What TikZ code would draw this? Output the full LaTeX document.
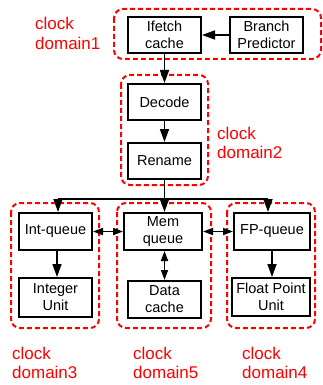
\documentclass[tikz,border=0pt]{standalone}
\usepackage{fontspec}
\setmainfont{Liberation Sans}
\usetikzlibrary{arrows.meta}
\begin{document}
\begin{tikzpicture}[x=1pt,y=-1pt,
  unit/.style={draw=black,line width=2pt,fill=white,inner sep=0pt,align=center,
    font=\fontsize{14.5}{17}\selectfont},
  clkdom/.style={draw=red,line width=2pt,dash pattern=on 5pt off 3pt,rounded corners=9pt},
  dlabel/.style={text=red,align=left,anchor=west,inner sep=0pt,font=\fontsize{17}{19.5}\selectfont},
  conn/.style={line width=1.7pt,-{Triangle[length=13pt,width=9pt]}},
  dconn/.style={line width=1.7pt,{Triangle[length=10pt,width=7pt]}-{Triangle[length=10pt,width=7pt]}}]
\useasboundingbox (0,0) rectangle (322,385);
% domains
\draw[clkdom] (114,9) rectangle (321,59);
\draw[clkdom] (121,75) rectangle (208,185);
\draw[clkdom] (11,203) rectangle (99,328);
\draw[clkdom] (117,203) rectangle (211,328);
\draw[clkdom] (227,203) rectangle (315,328);
% units
\node[unit,minimum width=73pt,minimum height=36pt] (ifetch) at (164.5,35) {Ifetch\\cache};
\node[unit,minimum width=73pt,minimum height=36pt] (branch) at (266.5,35) {Branch\\Predictor};
\node[unit,minimum width=73pt,minimum height=36pt] (decode) at (164.5,102) {Decode};
\node[unit,minimum width=73pt,minimum height=36pt] (rename) at (164.5,161) {Rename};
\node[unit,minimum width=73pt,minimum height=37pt] (intq) at (55.5,231.5) {Int-queue};
\node[unit,minimum width=78pt,minimum height=37pt] (memq) at (163,231.5) {Mem\\queue};
\node[unit,minimum width=76pt,minimum height=37pt] (fpq) at (272,231.5) {FP-queue};
\node[unit,minimum width=73pt,minimum height=39pt] (intu) at (55.5,297.5) {Integer\\Unit};
\node[unit,minimum width=73pt,minimum height=37pt] (dcache) at (164.5,299.5) {Data\\cache};
\node[unit,minimum width=78pt,minimum height=38pt] (fpu) at (271,297) {Float Point\\Unit};
% labels
\node[dlabel] (l1) at (35,33.5) {clock\\domain1};
\node[dlabel] (l2) at (217,143) {clock\\domain2};
\node[dlabel] (l3) at (12,363) {clock\\domain3};
\node[dlabel] (l5) at (133,363) {clock\\domain5};
\node[dlabel] (l4) at (242,363) {clock\\domain4};
% connectors
\draw[conn] (branch.west) -- (ifetch.east);
\draw[conn] (ifetch.south) -- (decode.north);
\draw[conn] (decode.south) -- (rename.north);
\coordinate (bus) at (164.5,199);
\coordinate (busl) at (58,199);
\coordinate (busr) at (268,199);
\draw[line width=1.7pt] (rename.south) -- (bus);
\draw[line width=1.7pt] (busl) -- (busr);
\draw[conn] (busl) -- (busl |- intq.north);
\draw[conn] (bus) -- (bus |- memq.north);
\draw[conn] (busr) -- (busr |- fpq.north);
\draw[dconn] (intq.east) -- (memq.west);
\draw[dconn] (memq.east) -- (fpq.west);
\draw[dconn] (memq.south -| dcache.north) -- (dcache.north);
\draw[conn] ([xshift=1.5pt]intq.south) -- ([xshift=1.5pt]intu.north);
\draw[conn] (fpq.south) -- (fpq.south |- fpu.north);
\end{tikzpicture}
\end{document}
